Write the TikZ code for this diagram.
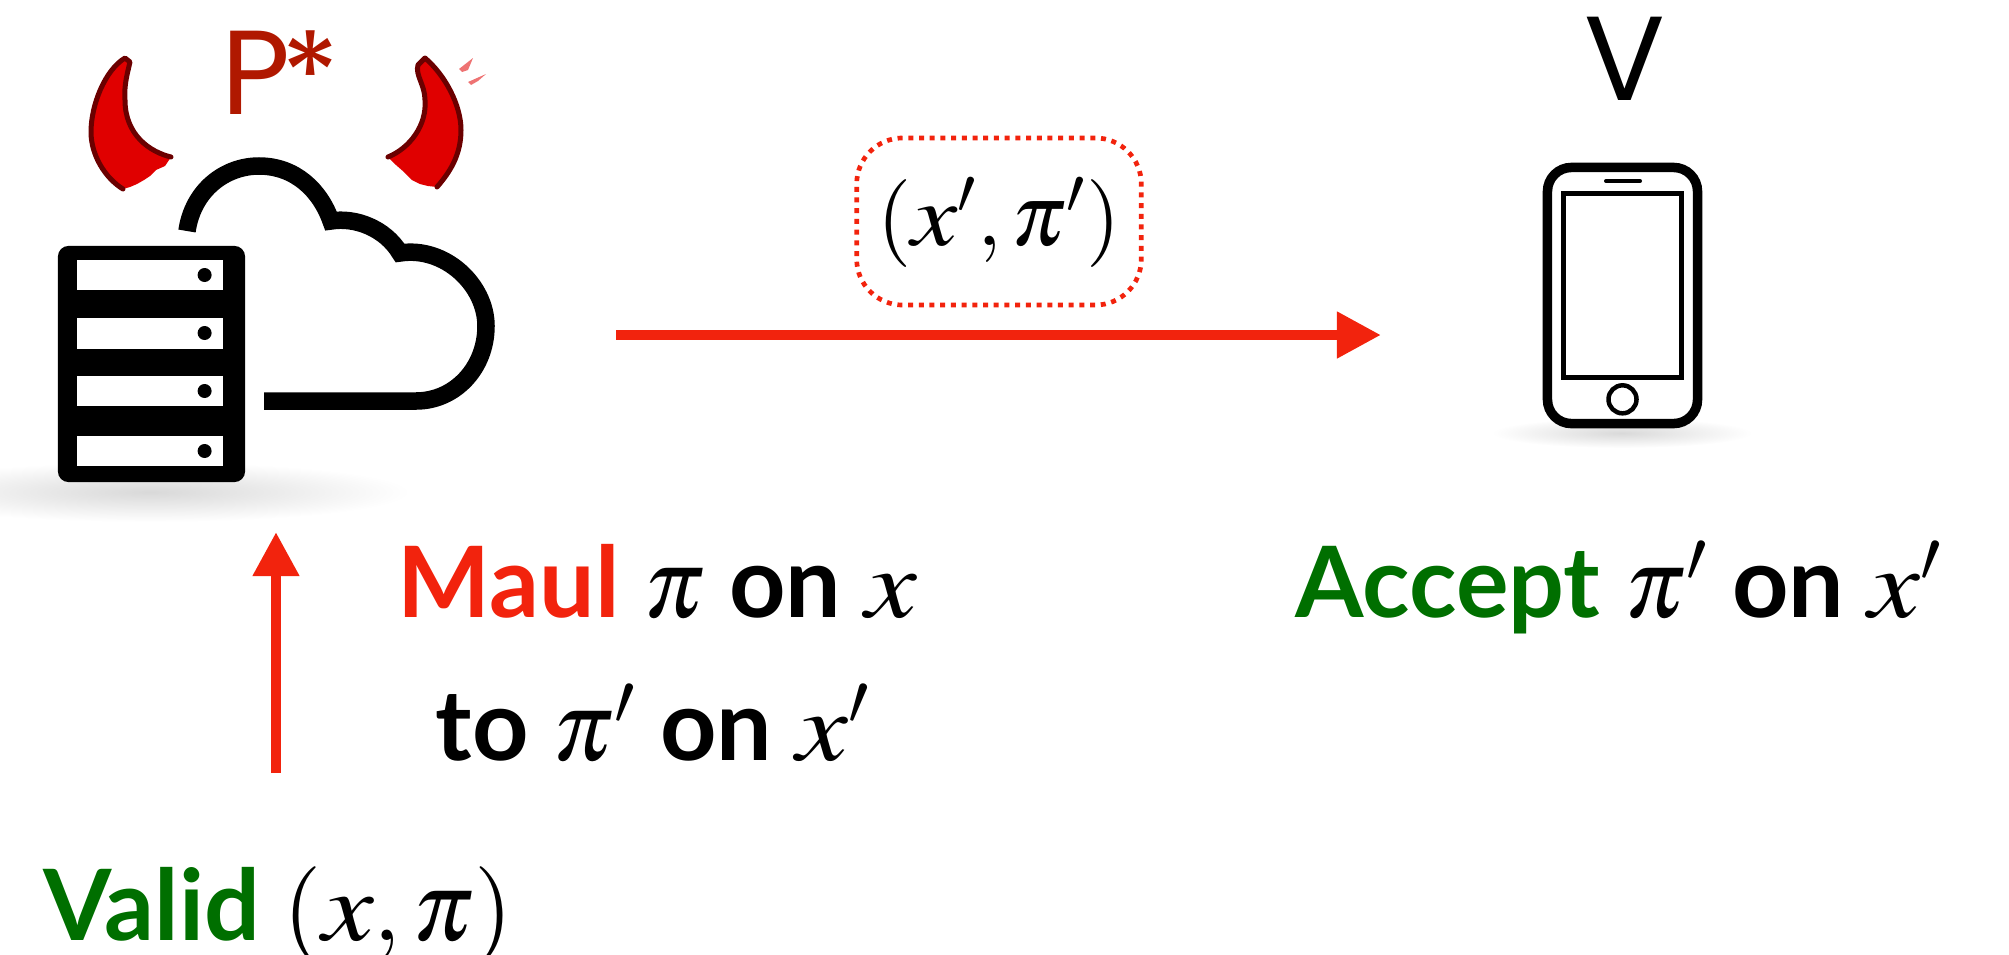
\documentclass[tikz,border=0pt]{standalone}
\usepackage[no-math]{fontspec}
\usepackage{mathptmx}
\setmainfont{Lato}
\newfontfamily\rolefont{Poppins}
\usetikzlibrary{arrows.meta, positioning, calc}
\definecolor{maulred}{HTML}{F2230D}
\definecolor{okgreen}{HTML}{006F00}
\definecolor{rolered}{HTML}{B01800}
\definecolor{hornred}{HTML}{E00000}
\definecolor{horndark}{HTML}{6B0000}
\newcommand{\wx}{\scalebox{1.18}[1]{$x$}}

\begin{document}
\begin{tikzpicture}[
  x=0.01cm, y=-0.01cm,
  caption/.style={anchor=base west, inner sep=0pt, font=\fontsize{28}{30}\selectfont\bfseries},
  role/.style={anchor=base west, inner sep=0pt, font=\fontsize{34}{36}\selectfont\rolefont},
  flow/.style={line width=0.105cm, maulred, -{Triangle[length=0.44cm, width=0.44cm]}},
  horn/.style={fill=hornred},
  hornline/.style={draw=horndark, line width=0.05cm, line cap=round, line join=round},
  floor/.style={inner color=black!15, outer color=white},
  slot/.style={fill=white}
]
  \useasboundingbox (0,0) rectangle (2009,954);

  % Shadows
  \shade[floor] (150,492) ellipse (260 and 30);
  \shade[floor] (1622,433) ellipse (130 and 15);

  % Horns
  \fill[horn] (125,58) .. controls (105,70) and (91,105) .. (91,132)
    .. controls (91,155) and (105,178) .. (123,189) -- (130,187) -- (137,184)
    -- (144,180) -- (150,176) -- (156,170) -- (165,166) -- (171,157)
    .. controls (150,152) and (125,135) .. (125,100)
    .. controls (124,85) and (127,75) .. (130,62) -- cycle;
  \draw[hornline] (123,189) .. controls (105,178) and (91,155) .. (91,132)
    .. controls (91,105) and (105,70) .. (125,58) -- (130,62)
    .. controls (127,75) and (124,85) .. (125,100)
    .. controls (125,135) and (150,152) .. (171,157);
  \fill[horn] (425,58) .. controls (445,75) and (461,105) .. (461,130)
    .. controls (461,155) and (450,172) .. (437,187) -- (428,186) -- (420,184)
    -- (412,180) -- (404,172) -- (396,165) -- (388,157)
    .. controls (410,148) and (427,125) .. (425,100)
    .. controls (425,85) and (415,75) .. (418,65) -- cycle;
  \draw[hornline] (437,187) .. controls (450,172) and (461,155) .. (461,130)
    .. controls (461,105) and (445,75) .. (425,58) -- (418,65)
    .. controls (415,75) and (425,85) .. (425,100)
    .. controls (427,125) and (410,148) .. (388,157);
  \fill[hornred!55] (459,69) -- (473,58) -- (468,70) -- (462,72) -- cycle;
  \fill[hornred!55] (468,82) -- (486,74) -- (478,81) -- (471,85) -- cycle;

  % Labels of the two parties
  \node[role, text=rolered] (prover) at (221,114) {P\kern-2.8pt\raisebox{-1.4pt}{*}};
  \node[role] (verifier) at (1584,100) {V};

  % Cloud
  \draw[line width=0.175cm, miter limit=10] (187,231)
    .. controls (193,190) and (225,166) .. (259,166)
    .. controls (295,166) and (320,190) .. (331,221)
    .. controls (355,217) and (385,228) .. (400,253)
    .. controls (445,246) and (486,285) .. (486,326)
    .. controls (486,368) and (455,401) .. (416,401) -- (264,401);

  % Server
  \node[fill=black, rounded corners=3pt, inner sep=0pt, minimum width=1.87cm,
    minimum height=2.36cm] (server) at (151.5,364) {};
  \foreach \top/\bot/\dot in {260/290/275, 318/349/333, 376/406/391, 436/466/451} {
    \fill[slot] (76.5,\top) rectangle (223,\bot);
    \fill (204.6,\dot) circle (7);
  }

  % Phone
  \node[draw, line width=0.095cm, rounded corners=0.24cm, inner sep=0pt,
    minimum width=1.50cm, minimum height=2.56cm] (phone) at (1622.5,295.5) {};
  \node[draw, line width=0.05cm, inner sep=0pt, minimum width=1.18cm,
    minimum height=1.84cm] (screen) at (1622.5,285.5) {};
  \node[draw, circle, line width=0.045cm, inner sep=0pt, minimum size=0.28cm,
    below=0.03cm of screen] (homekey) {};
  \coordinate (speakerl) at (1606,181);
  \coordinate (speakerr) at (1640,181);
  \draw[line width=0.04cm, line cap=round] (speakerl) -- (speakerr);

  % Message
  \node[draw=maulred, line width=0.047cm, dash pattern=on 0.05cm off 0.057cm,
    rounded corners=0.46cm, inner sep=0pt, minimum width=2.845cm,
    minimum height=1.67cm] (msg) at (999,221.5) {};
  \node[inner sep=0pt, anchor=base, font=\fontsize{25}{28}\selectfont] (pair) at (999,245)
    {$(\wx', \pi')$};
  \coordinate (sendfrom) at (616,335);
  \coordinate (sendto) at (1381,335);
  \draw[flow] (sendfrom) -- (sendto);

  % Maul input
  \coordinate (validup) at (276,773);
  \coordinate (validtip) at (276,532);
  \draw[flow] (validup) -- (validtip);

  % Captions
  \node[caption] (maul) at (397,617)
    {\textcolor{maulred}{Maul} $\pi$ on $\wx$};
  \node[caption] (maulto) at (435,760) {to $\pi'$ on $\wx'$};
  \node[caption] (valid) at (43,940)
    {\textcolor{okgreen}{Valid} $(\wx, \pi)$};
  \node[caption] (accept) at (1295,617)
    {\textcolor{okgreen}{Accept} $\pi'$ on $\wx'$};
\end{tikzpicture}
\end{document}
